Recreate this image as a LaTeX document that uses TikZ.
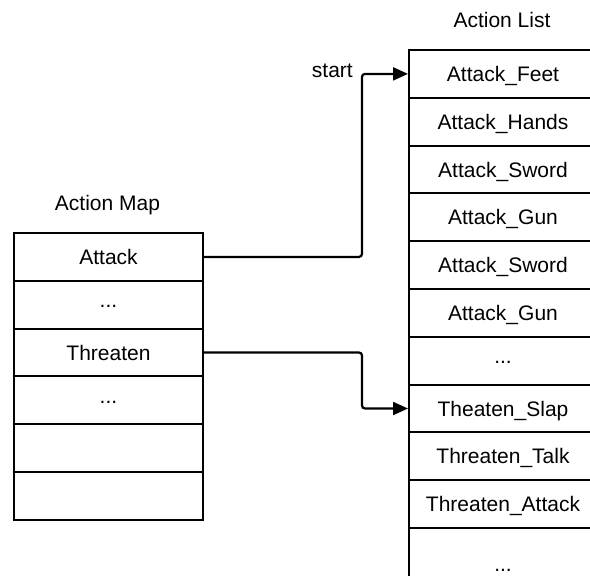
\documentclass[tikz,border=0pt]{standalone}
\usepackage{fontspec}
\setmainfont{Liberation Sans}
\usetikzlibrary{arrows.meta}
\begin{document}
\begin{tikzpicture}[x=1pt,y=-1pt,
  txt/.style={font=\fontsize{21}{24}\selectfont},
  cell/.style={txt, draw=black, line width=2pt, inner sep=0pt, anchor=north west,
    minimum height=47.8pt, text height=15pt, text depth=0pt},
  lcell/.style={cell, minimum width=189pt},
  rcell/.style={cell, minimum width=188pt},
  dots/.style={text height=6pt, text depth=0pt},
  conn/.style={draw=black, line width=2.2pt, rounded corners=3pt,
    -{Triangle[length=15pt,width=13pt]}}]
\useasboundingbox (0,0) rectangle (590,576);
\clip (0,0) rectangle (590,576);
% titles
\node[txt, anchor=base] (tmap) at (107.5,210) {Action Map};
\node[txt, anchor=base] (tlist) at (502,27) {Action List};
% action map
\node[lcell] (m1) at (13,232) {Attack};
\node[lcell, dots] (m2) at (13,279.8) {...};
\node[lcell] (m3) at (13,327.6) {Threaten};
\node[lcell, dots] (m4) at (13,375.4) {...};
\node[lcell] (m5) at (13,423.2) {};
\node[lcell] (m6) at (13,471) {};
% action list
\node[rcell] (a1) at (408,49) {Attack\_Feet};
\node[rcell] (a2) at (408,96.8) {Attack\_Hands};
\node[rcell] (a3) at (408,144.6) {Attack\_Sword};
\node[rcell] (a4) at (408,192.4) {Attack\_Gun};
\node[rcell] (a5) at (408,240.2) {Attack\_Sword};
\node[rcell] (a6) at (408,288) {Attack\_Gun};
\node[rcell, dots] (a7) at (408,335.8) {...};
\node[rcell] (a8) at (408,383.6) {Theaten\_Slap};
\node[rcell] (a9) at (408,431.4) {Threaten\_Talk};
\node[rcell] (a10) at (408,479.2) {Threaten\_Attack};
\node[rcell, dots, minimum height=80pt] (a11) at (408,527) {...};
% start label
\node[txt, anchor=base east, inner sep=0pt] (start) at (353,77) {start};
% connectors
\draw[conn] (m1.east) -- ++(158,0) |- (a1.west);
\draw[conn] (m3.east) -- ++(158,0) |- (a8.west);
\end{tikzpicture}
\end{document}
